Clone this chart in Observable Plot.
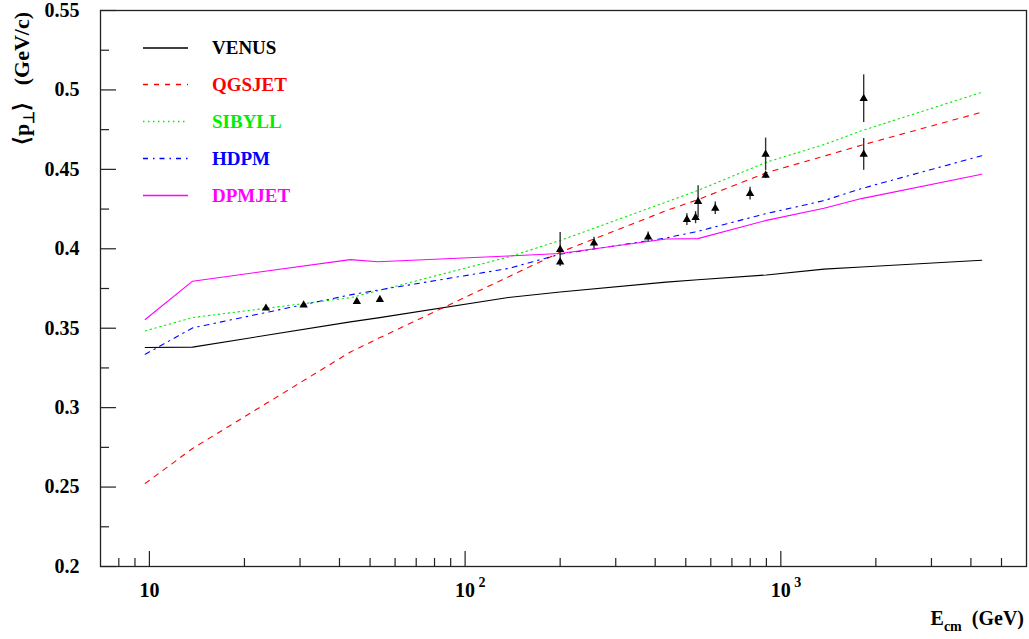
<!DOCTYPE html>
<html>
<head>
<meta charset="utf-8">
<script src="https://cdn.jsdelivr.net/npm/d3@7"></script>
<script src="https://cdn.jsdelivr.net/npm/@observablehq/plot@0.6"></script>
<style>
  html, body { margin: 0; padding: 0; background: #fff; }
  #chart svg { display: block; }
</style>
</head>
<body>
<div id="chart"></div>
<script>
// Centre-of-mass energies (GeV) at which the model curves are evaluated
const energies = [9.7, 13.7, 43.3, 53, 137, 200, 433, 546, 900, 1370, 1800, 4330];

// Mean transverse momentum <pT> (GeV/c) predicted by each model
const venus  = [0.3379, 0.3381, 0.3540, 0.3565, 0.3693, 0.3728, 0.3790, 0.3805, 0.3835, 0.3872, 0.3885, 0.3928];
const qgsjet = [0.2523, 0.2743, 0.3350, 0.3435, 0.3823, 0.3978, 0.4240, 0.4309, 0.4479, 0.4583, 0.4652, 0.4860];
const sibyll = [0.3483, 0.3567, 0.3692, 0.3736, 0.3948, 0.4052, 0.4294, 0.4367, 0.4545, 0.4656, 0.4743, 0.4985];
const hdpm   = [0.3336, 0.3502, 0.3710, 0.3740, 0.3876, 0.3966, 0.4068, 0.4110, 0.4222, 0.4303, 0.4379, 0.4586];
const dpmjet = [0.3555, 0.3796, 0.3932, 0.3918, 0.3955, 0.3970, 0.4062, 0.4064, 0.4179, 0.4255, 0.4316, 0.4469];

// Collider measurements: energy (GeV), <pT> (GeV/c), error
const dataE   = [23.4, 30.8, 45.4, 53.7, 200, 200, 256, 380, 504, 537, 547, 620, 799, 895, 895, 1830, 1830];
const dataPt  = [0.3626, 0.3645, 0.3668, 0.3680, 0.3995, 0.3917, 0.4036, 0.4074, 0.4184, 0.4196, 0.4297, 0.4255, 0.4347, 0.4594, 0.4462, 0.4945, 0.4594];
const dataErr = [0.001, 0.001, 0.001, 0.001, 0.0107, 0, 0.0037, 0.0032, 0.0037, 0.0038, 0.0100, 0.0039, 0.0040, 0.0103, 0.002, 0.0150, 0.0100];

// Axis ticks
const yMajor = [0.2, 0.25, 0.3, 0.35, 0.4, 0.45, 0.5, 0.55];
const yMinor = [0.225, 0.275, 0.325, 0.375, 0.425, 0.475, 0.525];
const xMajor = [10, 100, 1000];
const xExp   = ["", "2", "3"];
const xMinor = [8, 9, 20, 30, 40, 50, 60, 70, 80, 90, 200, 300, 400, 500, 600, 700, 800, 900, 2000, 3000, 4000, 5000];

const models = [
  {name: "VENUS",  values: venus,  color: "#000000", dash: null},
  {name: "QGSJET", values: qgsjet, color: "#ff0000", dash: "5,6"},
  {name: "SIBYLL", values: sibyll, color: "#00ee00", dash: "1.5,3.5"},
  {name: "HDPM",   values: hdpm,   color: "#0000ff", dash: "5,5,1.5,5"},
  {name: "DPMJET", values: dpmjet, color: "#ff00ff", dash: null}
];

const points = dataE.map((e, i) => ({e, pt: dataPt[i], err: dataErr[i]}));

const W = 1029, H = 639;
const margin = {left: 100, right: 3, top: 10, bottom: 73};
const innerW = W - margin.left - margin.right;
const innerH = H - margin.top - margin.bottom;
const FONT = "'Liberation Serif', 'Times New Roman', serif";

const modelMarks = models.map(m =>
  Plot.line(energies.map((e, i) => ({e, v: m.values[i]})), {
    x: "e", y: "v", stroke: m.color, strokeWidth: 1.1,
    strokeDasharray: m.dash
  })
);

const chart = Plot.plot({
  width: W,
  height: H,
  marginLeft: margin.left,
  marginRight: margin.right,
  marginTop: margin.top,
  marginBottom: margin.bottom,
  style: {fontFamily: FONT, background: "#fff"},
  x: {type: "log", domain: [7, 6000], axis: null},
  y: {domain: [0.2, 0.55], axis: null},
  marks: [
    // inward ticks on the left and bottom edges
    Plot.tickY(yMajor, {y: d => d, insetRight: innerW - 16, stroke: "#222", strokeWidth: 1.2}),
    Plot.tickY(yMinor, {y: d => d, insetRight: innerW - 9, stroke: "#222", strokeWidth: 1.2}),
    Plot.tickX(xMajor, {x: d => d, insetTop: innerH - 15, stroke: "#222", strokeWidth: 1.2}),
    Plot.tickX(xMinor, {x: d => d, insetTop: innerH - 8, stroke: "#222", strokeWidth: 1.2}),
    // tick labels
    Plot.text(yMajor, {
      y: d => d, frameAnchor: "left", dx: -21, textAnchor: "end",
      text: d => String(+d.toFixed(2)), fontSize: 20, fontWeight: "bold", fill: "#000"
    }),
    Plot.text(xMajor, {
      x: d => d, frameAnchor: "bottom", dy: 30, text: () => "10",
      fontSize: 20, fontWeight: "bold", fill: "#000"
    }),
    Plot.text(xMajor.map((v, i) => ({v, s: xExp[i]})).filter(d => d.s), {
      x: "v", frameAnchor: "bottom", dx: 17, dy: 20, text: "s",
      fontSize: 14, fontWeight: "bold", fill: "#000"
    }),
    // model curves
    ...modelMarks,
    // measurements
    Plot.ruleX(points.filter(d => d.err > 0), {
      x: "e", y1: d => d.pt - d.err, y2: d => d.pt + d.err, stroke: "#333", strokeWidth: 1.4
    }),
    Plot.dot(points, {x: "e", y: "pt", symbol: "triangle", r: 3.1, fill: "#000", stroke: "none"}),
    Plot.frame({stroke: "#222", strokeWidth: 1.3})
  ]
});

document.getElementById("chart").appendChild(chart);

// Axis titles and the in-frame key
const svg = d3.select(chart);

const yTitle = svg.append("text")
  .attr("transform", "translate(29,12) rotate(-90)")
  .attr("text-anchor", "end")
  .attr("font-family", FONT)
  .attr("font-weight", "bold")
  .attr("font-size", 22)
  .attr("fill", "#000");
yTitle.append("tspan").text("\u27E8p");
yTitle.append("tspan").attr("font-size", 15).attr("dy", 5).text("\u22A5");
yTitle.append("tspan").attr("dy", -5).text("\u27E9\u00A0\u00A0\u00A0(GeV/c)");

const xTitle = svg.append("text")
  .attr("x", 1024).attr("y", 625)
  .attr("text-anchor", "end")
  .attr("font-family", FONT)
  .attr("font-weight", "bold")
  .attr("font-size", 20)
  .attr("fill", "#000");
xTitle.append("tspan").text("E");
xTitle.append("tspan").attr("font-size", 14).attr("dy", 6).text("cm");
xTitle.append("tspan").attr("dy", -6).text("\u00A0\u00A0(GeV)");

const keyY = [48, 84.5, 121.5, 158.5, 195.5];
const key = svg.append("g");
models.forEach((m, i) => {
  key.append("line")
    .attr("x1", 143).attr("x2", 188)
    .attr("y1", keyY[i]).attr("y2", keyY[i])
    .attr("stroke", m.color)
    .attr("stroke-width", 1.3)
    .attr("stroke-dasharray", m.dash);
  key.append("text")
    .attr("x", 212).attr("y", keyY[i])
    .attr("dy", "0.34em")
    .attr("text-anchor", "start")
    .attr("font-family", FONT)
    .attr("font-weight", "bold")
    .attr("font-size", 19)
    .attr("fill", m.color)
    .text(m.name);
});
</script>
</body>
</html>
